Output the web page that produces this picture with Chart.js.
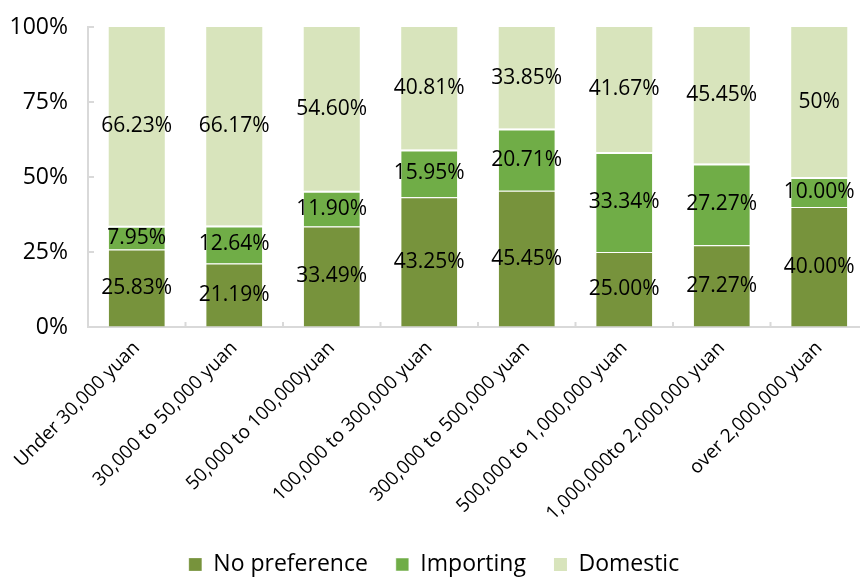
<!DOCTYPE html>
<html>
<head>
<meta charset="utf-8">
<script src="https://cdn.jsdelivr.net/npm/chart.js@4.4.0/dist/chart.umd.min.js"></script>
<style>
  html, body { margin: 0; padding: 0; background: #fff; overflow: hidden; }
  #wrap { width: 868px; height: 577px; }
</style>
</head>
<body>
<div id="wrap"><canvas id="chart"></canvas></div>
<script>
// income groups
const categories = [
  'Under 30,000 yuan',
  '30,000 to 50,000 yuan',
  '50,000 to 100,000yuan',
  '100,000 to 300,000 yuan',
  '300,000 to 500,000 yuan',
  '500,000 to 1,000,000 yuan',
  '1,000,000to 2,000,000 yuan',
  'over 2,000,000 yuan'
];
const noPreference = [25.83, 21.19, 33.49, 43.25, 45.45, 25.00, 27.27, 40.00];
const importing = [7.95, 12.64, 11.90, 15.95, 20.71, 33.34, 27.27, 10.00];
const domestic = [66.23, 66.17, 54.60, 40.81, 33.85, 41.67, 45.45, 50];
const yTicks = [0, 25, 50, 75, 100];

const FONT = "'Open Sans', sans-serif";
const AXIS_GREY = '#d9d9d9';

// value labels in the middle of each segment
const segmentLabels = {
  id: 'segmentLabels',
  afterDatasetsDraw(chart) {
    const ctx = chart.ctx;
    ctx.save();
    ctx.font = '21px ' + FONT;
    ctx.fillStyle = '#000';
    ctx.textAlign = 'center';
    ctx.textBaseline = 'middle';
    chart.data.datasets.forEach((ds, i) => {
      chart.getDatasetMeta(i).data.forEach((bar, j) => {
        const v = ds.data[j];
        // the last domestic value is shown without decimals in the source
        const txt = (i === 2 && Number.isInteger(v)) ? v + '%' : v.toFixed(2) + '%';
        const p = bar.getCenterPoint();
        ctx.fillText(txt, p.x, p.y);
      });
    });
    ctx.restore();
  }
};

// short tick marks pointing into the plot, like the excel original
const innerTicks = {
  id: 'innerTicks',
  afterDraw(chart) {
    const ctx = chart.ctx;
    const x = chart.scales.x, y = chart.scales.y;
    ctx.save();
    ctx.strokeStyle = AXIS_GREY;
    ctx.lineWidth = 2;
    ctx.beginPath();
    yTicks.forEach(v => {
      const py = y.getPixelForValue(v);
      ctx.moveTo(x.left, py);
      ctx.lineTo(x.left + 6, py);
    });
    for (let i = 0; i <= categories.length; i++) {
      const px = x.getPixelForValue(i - 0.5);
      ctx.moveTo(px, y.bottom);
      ctx.lineTo(px, y.bottom - 5);
    }
    ctx.stroke();
    ctx.restore();
  }
};

new Chart(document.getElementById('chart'), {
  type: 'bar',
  data: {
    labels: categories,
    datasets: [
      { label: 'No preference', data: noPreference, backgroundColor: '#77933c',
        borderColor: '#ffffff', borderWidth: { top: 1, left: 0, right: 0, bottom: 0 } },
      { label: 'Importing', data: importing, backgroundColor: '#70ad47',
        borderColor: '#ffffff', borderWidth: { top: 2, left: 0, right: 0, bottom: 0 } },
      { label: 'Domestic', data: domestic, backgroundColor: '#d8e4bc', borderWidth: 0 }
    ]
  },
  options: {
    responsive: true,
    maintainAspectRatio: false,
    animation: false,
    barPercentage: 0.575,
    categoryPercentage: 1,
    layout: { padding: { top: 27, right: 0, bottom: -9, left: 0 } },
    scales: {
      x: {
        stacked: true,
        grid: { display: true, drawOnChartArea: false, drawTicks: false },
        border: { color: AXIS_GREY, width: 2 },
        ticks: {
          color: '#000',
          font: { family: FONT, size: 19 },
          minRotation: 45,
          maxRotation: 45,
          autoSkip: false,
          padding: 10
        },
        afterFit: (s) => { s.height = 198; }
      },
      y: {
        stacked: true,
        min: 0,
        max: 100,
        afterBuildTicks: (s) => { s.ticks = yTicks.map(v => ({ value: v })); },
        // invisible outer ticks give the label gap without extra top padding
        grid: { display: true, drawOnChartArea: false, drawTicks: true, tickLength: 18, tickColor: 'rgba(0,0,0,0)' },
        border: { color: AXIS_GREY, width: 2 },
        ticks: {
          color: '#000',
          font: { family: FONT, size: 23 },
          padding: 2,
          callback: (v) => v + '%'
        },
        afterFit: (s) => { s.width = 88; }
      }
    },
    plugins: {
      legend: {
        position: 'bottom',
        labels: {
          color: '#000',
          font: { family: FONT, size: 23 },
          boxWidth: 13,
          boxHeight: 13,
          padding: 28
        }
      },
      tooltip: { enabled: false }
    }
  },
  plugins: [segmentLabels, innerTicks]
});
</script>
</body>
</html>
